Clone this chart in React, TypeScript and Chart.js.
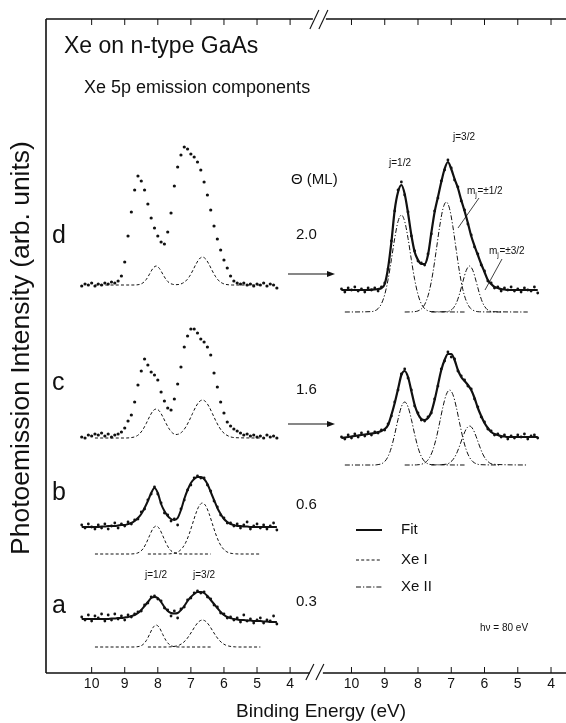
import React, { useEffect, useRef } from "react";
import { Chart, registerables } from "chart.js";

Chart.register(...registerables);

// ---------- Data (binding energy in eV, intensity in arb. units relative to each spectrum's baseline) ----------
const E_DOTS = [
  10.3, 10.2, 10.1, 10.0, 9.9, 9.8, 9.7, 9.6, 9.5, 9.4,
  9.3, 9.2, 9.1, 9.0, 8.9, 8.8, 8.7, 8.6, 8.5, 8.4,
  8.3, 8.2, 8.1, 8.0, 7.9, 7.8, 7.7, 7.6, 7.5, 7.4,
  7.3, 7.2, 7.1, 7.0, 6.9, 6.8, 6.7, 6.6, 6.5, 6.4,
  6.3, 6.2, 6.1, 6.0, 5.9, 5.8, 5.7, 5.6, 5.5, 5.4,
  5.3, 5.2, 5.1, 5.0, 4.9, 4.8, 4.7, 4.6, 4.5, 4.4,
];

// Left panel: measured spectra
const L_D_DOTS = [
  -1, 1, 0, 2, -1, 1, 0, 2, 1, 3,
  2, 4, 9, 23, 49, 73, 95, 109, 104, 95,
  81, 67, 57, 49, 43, 41, 53, 72, 99, 118,
  130, 138, 136, 131, 128, 123, 115, 103, 90, 75,
  59, 46, 35, 25, 17, 9, 4, 2, 1, 2,
  0, 1, -1, 1, 0, 2, -1, 1, 0, -3,
];
const L_C_DOTS = [
  0, -1, 2, 1, 3, 2, 4, 1, 3, 0,
  2, 3, 5, 9, 16, 22, 35, 52, 66, 78,
  72, 65, 62, 57, 45, 36, 29, 27, 38, 53,
  70, 90, 101, 108, 108, 104, 98, 95, 90, 82,
  64, 50, 35, 24, 15, 11, 8, 6, 4, 2,
  3, 1, 2, 0, 1, -1, 2, 0, 1, -1,
];
const L_B_DOTS = [
  2, -1, 3, 0, -2, 2, -1, 3, -2, 1,
  4, -1, 3, 1, 5, 3, 7, 8, 15, 18,
  27, 33, 40, 33, 24, 14, 12, 6, 8, 2,
  18, 27, 37, 42, 49, 51, 49, 49, 42, 36,
  26, 20, 12, 9, 4, 4, 1, 3, -1, 2,
  5, -2, 1, 3, -1, 2, -2, 1, 4, -3,
];
const L_B_FIT = [
  0, 0, 0, 0, 0, 0, 0.5, 0.5, 1, 1,
  1, 1.5, 2, 2, 3, 4, 6, 9, 13, 19,
  26, 34, 39, 34, 23, 16, 11, 8, 7, 9,
  17, 28, 37, 44, 48, 50, 50, 48, 43, 35,
  27, 19, 13, 8, 5, 3, 2, 1, 1, 0.5,
  0.5, 0, 0, 0, 0, 0, 0, 0, 0, 0,
];
const L_A_DOTS = [
  3, 0, 5, -1, 4, 2, 6, -1, 5, 0,
  6, 1, 4, 0, 5, 3, 6, 8, 9, 15,
  17, 23, 24, 21, 19, 12, 10, 4, 9, 2,
  11, 13, 20, 22, 27, 29, 27, 28, 23, 21,
  15, 13, 7, 6, 2, 3, 0, 2, -2, 5,
  -1, 1, -3, 0, 2, -3, 0, -1, 4, -4,
];
const L_A_FIT = [
  1, 1, 1, 1, 1, 1, 1, 1, 1, 1.5,
  1.5, 2, 2, 2.5, 3, 4, 5, 7, 10, 14,
  18, 22, 23, 22, 18, 13, 9, 7, 6.5, 7,
  10, 14, 19, 23, 26, 28, 28, 27, 24, 20,
  16, 12, 8, 5, 3, 2, 1, 0.5, 0, 0,
  -0.5, -0.5, -1, -1, -1, -1.5, -1.5, -2, -2, -2,
];

// Left panel: Xe I components
const LSUM_E = [
  9.9, 9.05, 8.95, 8.85, 8.75, 8.65, 8.55, 8.45, 8.35, 8.25,
  8.15, 8.05, 7.95, 7.85, 7.75, 7.65, 7.55, 7.45, 7.35, 7.25,
  7.15, 7.05, 6.95, 6.85, 6.75, 6.65, 6.55, 6.45, 6.35, 6.25,
  6.15, 6.05, 5.95, 5.85, 5.75, 5.65, 4.9,
];
const L_D_XE1 = [
  0, 0, 0, 0, 0, 0.1, 0.6, 2.1, 5.5, 10.9,
  16.5, 19, 16.5, 10.9, 5.5, 2.1, 0.7, 0.3, 0.6, 1.8,
  4.1, 8.2, 14, 20.6, 25.9, 28, 25.9, 20.6, 14, 8.2,
  4.1, 1.8, 0.6, 0.2, 0, 0, 0,
];
const L_C_XE1 = [
  0, 0, 0, 0.2, 0.7, 1.8, 4.2, 8.5, 14.5, 21.3,
  26.9, 29, 26.9, 21.3, 14.6, 8.8, 4.9, 3.5, 4.2, 6.7,
  11.2, 17.4, 24.5, 31.3, 36.2, 38, 36.2, 31.3, 24.5, 17.4,
  11.2, 6.5, 3.5, 1.7, 0.7, 0.3, 0,
];
const LP1_E = [9.9, 8.85, 8.75, 8.65, 8.55, 8.45, 8.35, 8.25, 8.15, 8.05, 7.95, 7.85, 7.75, 7.65, 7.55, 7.45, 7.35, 7.25, 6.4];
const L_B_J12 = [0, 0, 0.15, 0.6, 2.0, 5.1, 10.8, 18.3, 25.2, 28, 25.2, 18.3, 10.8, 5.1, 2.0, 0.6, 0.15, 0, 0];
const L_A_J12 = [0, 0, 0, 0.15, 0.7, 2.4, 6.3, 12.6, 19.2, 22, 19.2, 12.6, 6.3, 2.4, 0.7, 0.15, 0, 0, 0];
const LP2_E = [8.3, 7.75, 7.65, 7.55, 7.45, 7.35, 7.25, 7.15, 7.05, 6.95, 6.85, 6.75, 6.65, 6.55, 6.45, 6.35, 6.25, 6.15, 6.05, 5.95, 5.85, 5.75, 5.65, 5.55, 4.9];
const L_B_J32 = [0, 0, 0.15, 0.5, 1.2, 3.0, 6.3, 11.9, 20.1, 30.2, 40.4, 48.1, 51, 48.1, 40.4, 30.2, 20.1, 11.9, 6.3, 3.0, 1.2, 0.5, 0.15, 0, 0];
const L_A_J32 = [0, 0, 0.1, 0.35, 0.9, 1.9, 3.9, 7.0, 11.4, 16.6, 21.8, 25.6, 27, 25.6, 21.8, 16.6, 11.4, 7.0, 3.9, 1.9, 0.9, 0.35, 0.1, 0, 0];

// Right panel: Xe II (difference) spectra and fits
const R_D_DOTS = [
  1, -2, 2, 0, 3, -1, 1, -2, 2, 0,
  2, -1, 3, 7, 21, 49, 79, 100, 108, 95,
  78, 54, 39, 29, 27, 25, 36, 56, 79, 92,
  109, 120, 130, 122, 110, 103, 89, 80, 66, 55,
  43, 36, 25, 19, 9, 7, 2, 3, -1, 2,
  0, 3, -1, 1, -2, 2, 0, -1, 3, -3,
];
const R_D_FIT = [
  0, 0, 0, 0, 0, 0, 0, 0, 0, 0.3,
  0.5, 1, 2, 6, 22, 48, 80, 98, 105, 96,
  77, 55, 38, 30, 26, 26, 35, 57, 78, 93,
  108, 121, 128, 121, 111, 102, 90, 79, 67, 54,
  44, 35, 26, 18, 10, 6, 3, 2, 1, 0.5,
  0, 0, 0, 0, 0, 0, 0, 0, 0, 0,
];
const R_C_DOTS = [
  0, -2, 2, -1, 3, 0, 4, 1, 5, 2,
  5, 4, 7, 7, 13, 21, 35, 47, 63, 68,
  59, 47, 31, 24, 17, 16, 20, 24, 38, 51,
  68, 76, 85, 80, 78, 66, 61, 57, 51, 48,
  38, 30, 20, 15, 8, 6, 2, 3, 0, 2,
  -2, 1, -1, 2, 0, 3, -2, 1, 2, -1,
];
const R_C_FIT = [
  -1, -0.5, 0, 0.5, 1, 1.5, 2, 2.5, 3, 3.5,
  4, 5, 6, 8, 12, 22, 34, 48, 62, 66,
  60, 46, 32, 23, 18, 17, 19, 25, 37, 52,
  67, 77, 83, 83, 77, 67, 60, 56, 52, 47,
  39, 29, 21, 14, 9, 5, 3, 2, 1, 0.5,
  0, 0, 0, 0, 0, 0, 0, 0, 0, 0,
];
// Right panel: Xe II components (j=1/2, mj=±1/2, mj=±3/2)
const RC1_E = [10.2, 9.4, 9.3, 9.2, 9.1, 9.0, 8.9, 8.8, 8.7, 8.6, 8.5, 8.4, 8.3, 8.2, 8.1, 8.0, 7.9, 7.8, 7.7, 7.6, 6.6];
const R_D_J12 = [0, 0.4, 1.2, 3.4, 8.2, 17.5, 32.4, 52.3, 73.7, 90.6, 97, 90.6, 73.7, 52.3, 32.4, 17.5, 8.2, 3.4, 1.2, 0.4, 0];
const R_C_J12 = [0, 0, 0, 0.4, 1.2, 3.5, 8.5, 17.5, 30.7, 45.7, 58.2, 63, 58.2, 45.7, 30.7, 17.5, 8.5, 3.5, 1.2, 0.4, 0];
const RC2_E = [8.4, 8.15, 8.05, 7.95, 7.85, 7.75, 7.65, 7.55, 7.45, 7.35, 7.25, 7.15, 7.05, 6.95, 6.85, 6.75, 6.65, 6.55, 6.45, 6.35, 6.25, 6.15, 5.5];
const R_D_M12 = [0, 0.2, 0.6, 1.9, 4.8, 11.1, 22.3, 39.6, 62, 85.2, 103.2, 110, 103.2, 85.2, 62, 39.6, 22.3, 11.1, 4.8, 1.9, 0.6, 0.2, 0];
const R_C_M12 = [0, 0, 0.1, 0.4, 1.3, 3.3, 7.6, 15.2, 27, 42.2, 58.1, 70.4, 75, 70.4, 58.1, 42.2, 27, 15.2, 7.6, 3.3, 1.3, 0.4, 0];
const RC3_E = [7.6, 7.15, 7.05, 6.95, 6.85, 6.75, 6.65, 6.55, 6.45, 6.35, 6.25, 6.15, 6.05, 5.95, 5.85, 5.75, 4.7];
const R_D_M32 = [0, 0.3, 1.1, 3.5, 8.8, 18.2, 30.4, 41.5, 46, 41.5, 30.4, 18.2, 8.8, 3.5, 1.1, 0.3, 0];
const R_C_M32 = [0, 0.8, 2.2, 5.3, 10.8, 19, 28.3, 36, 39, 36, 28.3, 19, 10.8, 5.3, 2.2, 0.8, 0];

const COVERAGES = ["2.0", "1.6", "0.6", "0.3"];
const SPECTRUM_LABELS = ["d", "c", "b", "a"];
const TICK_VALUES = [10, 9, 8, 7, 6, 5, 4];

// ---------- Layout (vertical stacking offsets in plot units) ----------
const OFF_L_D = 388, OFF_L_C = 236, OFF_L_C_COMP = 235;
const OFF_L_B = 146, OFF_L_B_COMP = 119, OFF_L_A = 53, OFF_L_A_COMP = 26;
const OFF_R_D = 383, OFF_R_D_COMP = 361, OFF_R_C = 236, OFF_R_C_COMP = 208;

const FONT = '"Liberation Sans", Arial, Helvetica, sans-serif';
const INK = "#111";
const DASH_XE1 = [3, 2.2];
const DASH_XE2 = [5, 2, 1.2, 2];

function pts(xs: number[], ys: number[], off: number) {
  return xs.map((x, i) => ({ x, y: ys[i] + off }));
}

function dots(xs: number[], ys: number[], off: number, axis: string, r = 1.3) {
  return {
    data: pts(xs, ys, off),
    xAxisID: axis,
    yAxisID: "y",
    showLine: false,
    pointRadius: r,
    pointBackgroundColor: INK,
    pointBorderWidth: 0,
    borderColor: INK,
  };
}

function curve(xs: number[], ys: number[], off: number, axis: string, width: number, dash: number[]) {
  return {
    data: pts(xs, ys, off),
    xAxisID: axis,
    yAxisID: "y",
    showLine: true,
    pointRadius: 0,
    borderColor: INK,
    borderWidth: width,
    borderDash: dash,
    cubicInterpolationMode: "monotone" as const,
    fill: false,
  };
}

function text(ctx: CanvasRenderingContext2D, s: string, x: number, y: number, size: number, align: CanvasTextAlign = "left") {
  ctx.font = `${size}px ${FONT}`;
  ctx.textAlign = align;
  ctx.textBaseline = "middle";
  ctx.fillText(s, x, y);
}

function mjLabel(ctx: CanvasRenderingContext2D, rest: string, x: number, y: number) {
  ctx.textAlign = "left";
  ctx.textBaseline = "middle";
  ctx.font = `10px ${FONT}`;
  ctx.fillText("m", x, y);
  let w = ctx.measureText("m").width;
  ctx.font = `7px ${FONT}`;
  ctx.fillText("j", x + w, y + 4);
  w += ctx.measureText("j").width + 0.5;
  ctx.font = `10px ${FONT}`;
  ctx.fillText(rest, x + w, y);
}

function seg(ctx: CanvasRenderingContext2D, x1: number, y1: number, x2: number, y2: number) {
  ctx.beginPath();
  ctx.moveTo(x1, y1);
  ctx.lineTo(x2, y2);
  ctx.stroke();
}

function arrow(ctx: CanvasRenderingContext2D, x1: number, x2: number, y: number) {
  ctx.lineWidth = 1.1;
  seg(ctx, x1, y, x2 - 4, y);
  ctx.beginPath();
  ctx.moveTo(x2, y);
  ctx.lineTo(x2 - 8, y - 3);
  ctx.lineTo(x2 - 8, y + 3);
  ctx.closePath();
  ctx.fill();
}

const framePlugin = {
  id: "frame",
  afterDraw(chart: any) {
    const ctx: CanvasRenderingContext2D = chart.ctx;
    const { left, top, bottom } = chart.chartArea;
    const xL = chart.scales.xL;
    const xR = chart.scales.xR;
    const W = chart.width;
    const brk = xL.right;
    ctx.save();
    ctx.strokeStyle = INK;
    ctx.fillStyle = INK;
    ctx.setLineDash([]);
    ctx.lineWidth = 1.6;
    ctx.beginPath();
    ctx.moveTo(left, top);
    ctx.lineTo(left, bottom);
    ctx.moveTo(left, bottom);
    ctx.lineTo(brk - 8, bottom);
    ctx.moveTo(brk + 5, bottom);
    ctx.lineTo(W, bottom);
    ctx.moveTo(left, top);
    ctx.lineTo(brk - 5, top);
    ctx.moveTo(brk + 8, top);
    ctx.lineTo(W, top);
    ctx.stroke();

    // inward ticks + bottom labels
    ctx.lineWidth = 1;
    for (const s of [xL, xR]) {
      for (const t of TICK_VALUES) {
        const x = s.getPixelForValue(t);
        seg(ctx, x, bottom, x, bottom - 6);
        seg(ctx, x, top, x, top + 6);
        text(ctx, String(t), x, bottom + 11, 14, "center");
      }
    }
    // axis break marks
    ctx.lineWidth = 1.1;
    for (const dx of [-8, 2]) seg(ctx, brk + dx - 4, bottom + 7, brk + dx + 4, bottom - 9);
    for (const dx of [-4, 5]) seg(ctx, brk + dx - 4, top + 10, brk + dx + 5, top - 9);

    // titles
    text(ctx, "Binding Energy (eV)", 321, bottom + 39, 19, "center");
    ctx.save();
    ctx.translate(22, 348);
    ctx.rotate(-Math.PI / 2);
    text(ctx, "Photoemission Intensity (arb. units)", 0, 0, 26.5, "center");
    ctx.restore();
    text(ctx, "Xe on n-type GaAs", 64, 47, 23);
    text(ctx, "Xe 5p emission components", 84, 88, 18);

    // spectrum letters and coverages
    const letterY = [236, 383, 493, 606];
    const covY = [235, 390, 505, 602];
    SPECTRUM_LABELS.forEach((l, i) => text(ctx, l, 52, letterY[i], 25));
    COVERAGES.forEach((c, i) => text(ctx, c, 296, covY[i], 15));
    text(ctx, "\u0398 (ML)", 291, 180, 15);

    // arrows
    arrow(ctx, 288, 335, 274);
    arrow(ctx, 288, 335, 424);

    // peak labels
    text(ctx, "j=1/2", 156, 575, 10, "center");
    text(ctx, "j=3/2", 204, 575, 10, "center");
    text(ctx, "j=1/2", 400, 163, 10, "center");
    text(ctx, "j=3/2", 464, 137, 10, "center");
    mjLabel(ctx, "=\u00b11/2", 467, 191);
    mjLabel(ctx, "=\u00b13/2", 489, 251);
    ctx.lineWidth = 0.8;
    seg(ctx, 479, 198, 458, 228);
    seg(ctx, 502, 259, 485, 290);

    // legend
    const lx1 = 356, lx2 = 382;
    ctx.lineWidth = 2;
    seg(ctx, lx1, 530, lx2, 530);
    text(ctx, "Fit", 401, 530, 15);
    ctx.lineWidth = 1;
    ctx.setLineDash(DASH_XE1);
    seg(ctx, lx1, 560, lx2, 560);
    ctx.setLineDash(DASH_XE2);
    seg(ctx, lx1, 587, lx2, 587);
    ctx.setLineDash([]);
    text(ctx, "Xe I", 401, 560, 15);
    text(ctx, "Xe II", 401, 587, 15);
    text(ctx, "h\u03bd = 80 eV", 480, 628, 10);
    ctx.restore();
  },
};

export default function App() {
  const ref = useRef<HTMLCanvasElement>(null);
  useEffect(() => {
    const canvas = ref.current;
    if (!canvas) return;
    const datasets: any[] = [
      // left d
      dots(E_DOTS, L_D_DOTS, OFF_L_D, "xL", 1.6),
      curve(LSUM_E, L_D_XE1, OFF_L_D, "xL", 1, DASH_XE1),
      // left c
      dots(E_DOTS, L_C_DOTS, OFF_L_C, "xL", 1.6),
      curve(LSUM_E, L_C_XE1, OFF_L_C_COMP, "xL", 1, DASH_XE1),
      // left b
      curve(E_DOTS, L_B_FIT, OFF_L_B, "xL", 2, []),
      dots(E_DOTS, L_B_DOTS, OFF_L_B, "xL", 1.4),
      curve(LP1_E, L_B_J12, OFF_L_B_COMP, "xL", 1, DASH_XE1),
      curve(LP2_E, L_B_J32, OFF_L_B_COMP, "xL", 1, DASH_XE1),
      // left a
      curve(E_DOTS, L_A_FIT, OFF_L_A, "xL", 2, []),
      dots(E_DOTS, L_A_DOTS, OFF_L_A, "xL", 1.4),
      curve(LP1_E, L_A_J12, OFF_L_A_COMP, "xL", 1, DASH_XE1),
      curve(LP2_E, L_A_J32, OFF_L_A_COMP, "xL", 1, DASH_XE1),
      // right d
      curve(E_DOTS, R_D_FIT, OFF_R_D, "xR", 2.2, []),
      dots(E_DOTS, R_D_DOTS, OFF_R_D, "xR", 1.4),
      curve(RC1_E, R_D_J12, OFF_R_D_COMP, "xR", 1, DASH_XE2),
      curve(RC2_E, R_D_M12, OFF_R_D_COMP, "xR", 1, DASH_XE2),
      curve(RC3_E, R_D_M32, OFF_R_D_COMP, "xR", 1, DASH_XE2),
      // right c
      curve(E_DOTS, R_C_FIT, OFF_R_C, "xR", 2.2, []),
      dots(E_DOTS, R_C_DOTS, OFF_R_C, "xR", 1.4),
      curve(RC1_E, R_C_J12, OFF_R_C_COMP, "xR", 1, DASH_XE2),
      curve(RC2_E, R_C_M12, OFF_R_C_COMP, "xR", 1, DASH_XE2),
      curve(RC3_E, R_C_M32, OFF_R_C_COMP, "xR", 1, DASH_XE2),
    ];
    const chart = new Chart(canvas, {
      type: "line",
      data: { datasets },
      options: {
        animation: false,
        responsive: false,
        events: [],
        layout: { padding: { left: 46, top: 19, right: 0, bottom: 50 } },
        plugins: { legend: { display: false }, tooltip: { enabled: false } },
        scales: {
          xL: { type: "linear", position: "bottom", stack: "bx", stackWeight: 274, min: 3.16, max: 11.38, reverse: true, display: false },
          xR: { type: "linear", position: "bottom", stack: "bx", stackWeight: 246, min: 3.67, max: 11.01, reverse: true, display: false },
          y: { type: "linear", position: "left", min: 0, max: 654, display: false },
        },
      } as any,
      plugins: [framePlugin],
    });
    return () => chart.destroy();
  }, []);
  return (
    <div style={{ position: "fixed", left: 0, top: 0, width: 566, height: 723, background: "#fff" }}>
      <canvas ref={ref} width={566} height={723} style={{ width: 566, height: 723, display: "block" }} />
    </div>
  );
}
